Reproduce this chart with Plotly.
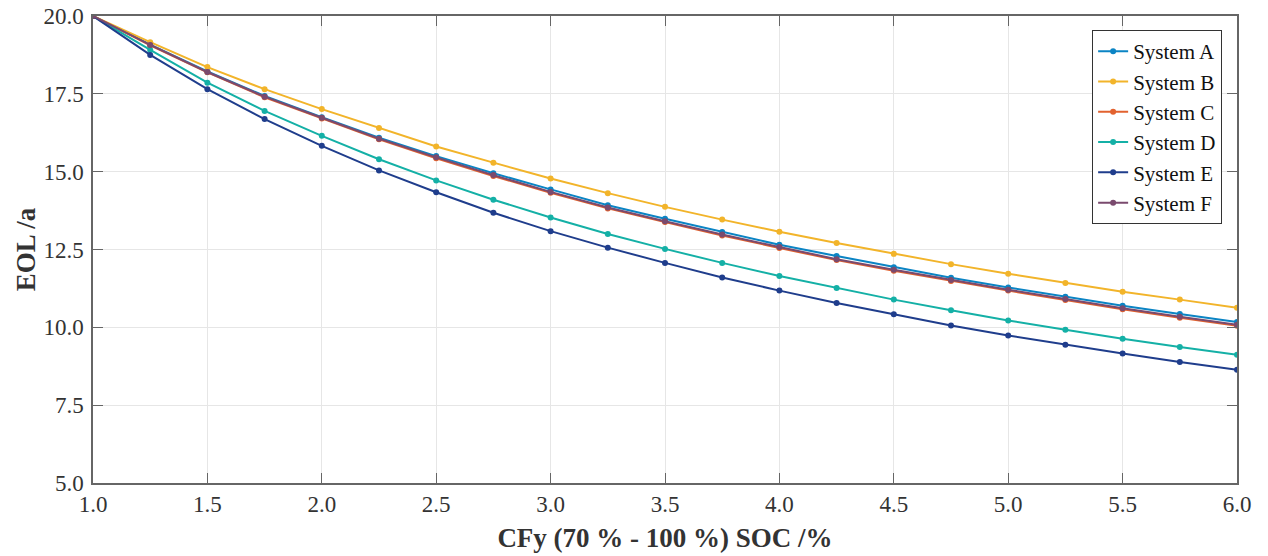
import plotly.graph_objects as go

x_vals = [1.0, 1.25, 1.5, 1.75, 2.0, 2.25, 2.5, 2.75, 3.0, 3.25, 3.5, 3.75, 4.0, 4.25, 4.5, 4.75, 5.0, 5.25, 5.5, 5.75, 6.0]

sys_a = [20.0, 19.08, 18.22, 17.43, 16.75, 16.09, 15.50, 14.95, 14.43, 13.92, 13.49, 13.06, 12.65, 12.29, 11.93, 11.59, 11.28, 10.98, 10.69, 10.43, 10.17]
sys_b = [20.0, 19.16, 18.36, 17.65, 17.01, 16.40, 15.81, 15.29, 14.78, 14.31, 13.87, 13.46, 13.07, 12.71, 12.36, 12.03, 11.72, 11.42, 11.14, 10.89, 10.63]
sys_c = [20.0, 19.06, 18.19, 17.39, 16.71, 16.04, 15.43, 14.86, 14.32, 13.82, 13.38, 12.95, 12.55, 12.16, 11.82, 11.49, 11.18, 10.88, 10.58, 10.31, 10.05]
sys_d = [20.0, 18.91, 17.86, 16.95, 16.15, 15.40, 14.72, 14.10, 13.53, 13.00, 12.52, 12.07, 11.65, 11.26, 10.89, 10.55, 10.22, 9.92, 9.63, 9.37, 9.12]
sys_e = [20.0, 18.75, 17.65, 16.69, 15.83, 15.04, 14.34, 13.68, 13.09, 12.56, 12.07, 11.60, 11.18, 10.78, 10.42, 10.06, 9.74, 9.44, 9.16, 8.89, 8.64]
sys_f = [20.0, 19.07, 18.20, 17.41, 16.73, 16.06, 15.46, 14.89, 14.35, 13.85, 13.41, 12.98, 12.58, 12.19, 11.85, 11.52, 11.21, 10.91, 10.61, 10.34, 10.08]

names = ["System A", "System B", "System C", "System D", "System E", "System F"]
series = [sys_a, sys_b, sys_c, sys_d, sys_e, sys_f]
colors = ["#0b84c4", "#f2b42a", "#e2622f", "#14b0a6", "#1f3d8c", "#7a4a6e"]

x_ticks = [1.0, 1.5, 2.0, 2.5, 3.0, 3.5, 4.0, 4.5, 5.0, 5.5, 6.0]
y_ticks = [5.0, 7.5, 10.0, 12.5, 15.0, 17.5, 20.0]

fig = go.Figure()
for name, ys, c in zip(names, series, colors):
    fig.add_trace(go.Scatter(
        x=x_vals, y=ys, name=name, mode="lines+markers",
        line=dict(color=c, width=2),
        marker=dict(color=c, size=6),
    ))

ff = "Liberation Serif"
fig.update_layout(
    width=1268, height=556,
    margin=dict(l=93, r=31, t=16, b=73, autoexpand=False),
    paper_bgcolor="white", plot_bgcolor="white",
    font=dict(family=ff, size=23, color="#333"),
    showlegend=True,
    legend=dict(
        x=0.987, y=0.970, xanchor="right", yanchor="top",
        bgcolor="white", bordercolor="#333", borderwidth=1,
        font=dict(family=ff, size=21, color="#111"),
        tracegroupgap=0, itemwidth=30,
    ),
    xaxis=dict(
        range=[1.0, 6.0], tickvals=x_ticks, ticktext=[f"{v:.1f}" for v in x_ticks],
        showgrid=True, gridcolor="#e6e6e6", gridwidth=1,
        showline=True, linecolor="#666", linewidth=1.5, mirror="ticks",
        ticks="inside", ticklen=10, tickcolor="#666",
        zeroline=False, automargin=False, ticklabeloverflow="allow",
        tickfont=dict(family=ff, size=23, color="#333"),
        title=dict(text="<b>CFy (70 % - 100 %) SOC /%</b>", font=dict(family=ff, size=27, color="#333"), standoff=12),
    ),
    yaxis=dict(
        range=[5.0, 20.0], tickvals=y_ticks, ticktext=[f"{v:.1f}" for v in y_ticks],
        showgrid=True, gridcolor="#e6e6e6", gridwidth=1,
        showline=True, linecolor="#666", linewidth=1.5, mirror="ticks",
        ticks="inside", ticklen=10, tickcolor="#666",
        zeroline=False, automargin=False, ticklabeloverflow="allow",
        ticklabelstandoff=3,
        tickfont=dict(family=ff, size=23, color="#333"),
        title=dict(text="<b>EOL /a</b>", font=dict(family=ff, size=27, color="#333"), standoff=0),
    ),
)

fig.write_html(
    "out.html",
    config={"displayModeBar": False},
    post_script="document.body.style.margin='0';document.body.style.overflow='hidden';",
)
